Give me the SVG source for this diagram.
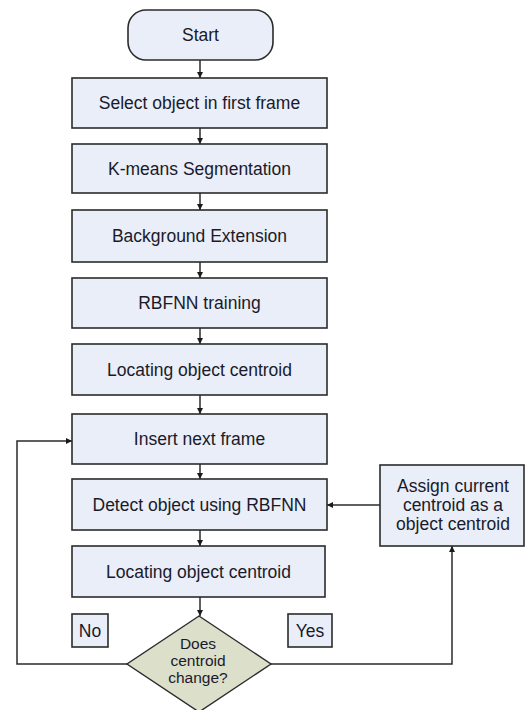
<svg xmlns="http://www.w3.org/2000/svg" width="528" height="710" viewBox="0 0 528 710">
  <defs>
    <style>
      .box { fill: #e9eef8; stroke: #2b2b2b; stroke-width: 1.6; }
      .dec { fill: #dcdfca; stroke: #2b2b2b; stroke-width: 1.4; }
      .lbl { font-family: "Liberation Sans", Arial, sans-serif; font-size: 17.5px; fill: #1a1a2a; text-anchor: middle; }
      .small { font-size: 15.5px; }
      .wire { fill: none; stroke: #2b2b2b; stroke-width: 1.5; }
    </style>
    <marker id="arrow" viewBox="0 0 10 10" refX="10" refY="5" markerWidth="6" markerHeight="6" markerUnits="userSpaceOnUse" orient="auto">
      <path d="M0,0 L10,5 L0,10 z" fill="#1a1a1a"/>
    </marker>
  </defs>
  <rect width="528" height="710" fill="#ffffff"/>

  <g id="connectors">
    <line class="wire" x1="200" y1="60" x2="200" y2="78" marker-end="url(#arrow)"/>
    <line class="wire" x1="200" y1="128" x2="200" y2="144" marker-end="url(#arrow)"/>
    <line class="wire" x1="200" y1="193" x2="200" y2="210" marker-end="url(#arrow)"/>
    <line class="wire" x1="200" y1="262" x2="200" y2="278" marker-end="url(#arrow)"/>
    <line class="wire" x1="200" y1="328" x2="200" y2="344" marker-end="url(#arrow)"/>
    <line class="wire" x1="200" y1="395" x2="200" y2="414" marker-end="url(#arrow)"/>
    <line class="wire" x1="200" y1="464" x2="200" y2="479" marker-end="url(#arrow)"/>
    <line class="wire" x1="200" y1="530" x2="200" y2="546" marker-end="url(#arrow)"/>
    <line class="wire" x1="200" y1="597" x2="200" y2="616" marker-end="url(#arrow)"/>
    <!-- No branch loops back to the frame input -->
    <polyline class="wire" points="127,664 17,664 17,441 72,441" marker-end="url(#arrow)"/>
    <!-- Yes branch goes to centroid update -->
    <polyline class="wire" points="271,664 452,664 452,546" marker-end="url(#arrow)"/>
    <line class="wire" x1="380" y1="505" x2="327" y2="505" marker-end="url(#arrow)"/>
  </g>

  <g id="start">
    <rect class="box" x="128" y="10" width="145" height="50" rx="18" ry="18"/>
    <text class="lbl" x="200.5" y="41">Start</text>
  </g>
  <g id="select">
    <rect class="box" x="72" y="78" width="255" height="50"/>
    <text class="lbl" x="199.5" y="109">Select object in first frame</text>
  </g>
  <g id="kmeans">
    <rect class="box" x="72" y="144" width="255" height="49"/>
    <text class="lbl" x="199.5" y="174.5">K-means Segmentation</text>
  </g>
  <g id="background">
    <rect class="box" x="72" y="210" width="255" height="52"/>
    <text class="lbl" x="199.5" y="242">Background Extension</text>
  </g>
  <g id="training">
    <rect class="box" x="72" y="278" width="255" height="50"/>
    <text class="lbl" x="199.5" y="309">RBFNN training</text>
  </g>
  <g id="locate1">
    <rect class="box" x="72" y="344" width="255" height="51"/>
    <text class="lbl" x="199.5" y="375.5">Locating object centroid</text>
  </g>
  <g id="insert">
    <rect class="box" x="72" y="414" width="255" height="50"/>
    <text class="lbl" x="199.5" y="445">Insert next frame</text>
  </g>
  <g id="detect">
    <rect class="box" x="72" y="479" width="255" height="51"/>
    <text class="lbl" x="199.5" y="510.5">Detect object using RBFNN</text>
  </g>
  <g id="locate2">
    <rect class="box" x="72" y="546" width="253" height="51"/>
    <text class="lbl" x="198.5" y="577.5">Locating object centroid</text>
  </g>
  <g id="assign">
    <rect class="box" x="380" y="465" width="144" height="81"/>
    <text class="lbl" x="453" y="492">Assign current</text>
    <text class="lbl" x="453" y="511">centroid as a</text>
    <text class="lbl" x="453" y="530">object centroid</text>
  </g>
  <g id="decision">
    <polygon class="dec" points="199,616 271,664 199,712 127,664"/>
    <text class="lbl small" x="198" y="649">Does</text>
    <text class="lbl small" x="198" y="666">centroid</text>
    <text class="lbl small" x="198" y="683">change?</text>
  </g>
  <g id="no-label">
    <rect class="box" x="72" y="614" width="36" height="33"/>
    <text class="lbl" x="90" y="637">No</text>
  </g>
  <g id="yes-label">
    <rect class="box" x="288" y="614" width="44" height="33"/>
    <text class="lbl" x="310" y="637">Yes</text>
  </g>
</svg>
